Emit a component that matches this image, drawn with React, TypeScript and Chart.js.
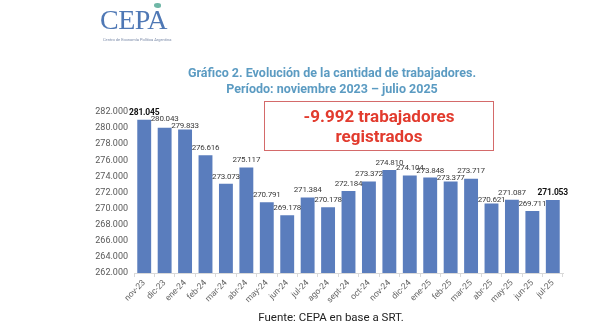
import React, { useEffect, useRef } from "react";
import { Chart, registerables } from "chart.js";

Chart.register(...registerables);

const categories = [
  "nov-23", "dic-23", "ene-24", "feb-24", "mar-24", "abr-24", "may-24", "jun-24",
  "jul-24", "ago-24", "sept-24", "oct-24", "nov-24", "dic-24", "ene-25", "feb-25",
  "mar-25", "abr-25", "may-25", "jun-25", "jul-25",
];
const trabajadores = [
  281045, 280043, 279833, 276616, 273073, 275117, 270791, 269178,
  271384, 270178, 272184, 273372, 274810, 274104, 273848, 273377,
  273717, 270621, 271087, 269711, 271053,
];
const boldLabels = [0, 20];
const yMin = 262000;
const yMax = 282000;
const yStep = 2000;

const fmt = (v: number) => {
  const s = Math.round(v).toString();
  return s.replace(/\B(?=(\d{3})+(?!\d))/g, ".");
};

const BAR_COLOR = "#5a7dbd";
const FONT = "Roboto, 'Liberation Sans', Arial, sans-serif";

const labelPlugin = {
  id: "barLabels",
  afterDatasetsDraw(chart: any) {
    const ctx = chart.ctx;
    const meta = chart.getDatasetMeta(0);
    ctx.save();
    ctx.textAlign = "center";
    ctx.textBaseline = "alphabetic";
    if ("letterSpacing" in ctx) (ctx as any).letterSpacing = "-0.2px";
    const H = 7;
    const items = meta.data.map((bar: any, i: number) => {
      const bold = boldLabels.includes(i);
      const font = `${bold ? "bold 8.5px" : "8px"} ${FONT}`;
      ctx.font = font;
      const text = fmt(trabajadores[i]);
      const w = ctx.measureText(text).width;
      return { x: bar.x, barY: bar.y, base: bar.y - 5, w, text, font, bold };
    });
    for (let i = 1; i < items.length; i++) {
      const a = items[i - 1];
      const b = items[i];
      const hOverlap = a.x + a.w / 2 > b.x - b.w / 2;
      if (!hOverlap) continue;
      const hi = a.barY <= b.barY ? a : b;
      const lo = hi === a ? b : a;
      if (lo.base - H >= hi.base) continue;
      lo.base = Math.min(lo.barY - 1, hi.base + H);
      if (lo.base - H < hi.base) hi.base = lo.base - H;
    }
    items.forEach((it: any) => {
      ctx.font = it.font;
      ctx.fillStyle = it.bold ? "#111111" : "#3a3a3a";
      ctx.fillText(it.text, it.x, it.base);
    });
    ctx.restore();
  },
};

export default function App() {
  const ref = useRef<HTMLCanvasElement | null>(null);

  useEffect(() => {
    if (!ref.current) return;
    const chart = new Chart(ref.current, {
      type: "bar",
      data: {
        labels: categories,
        datasets: [
          {
            data: trabajadores,
            backgroundColor: BAR_COLOR,
            barPercentage: 0.68,
            categoryPercentage: 1,
          },
        ],
      },
      options: {
        animation: false,
        responsive: false,
        maintainAspectRatio: false,
        layout: { padding: { left: 0, right: 37, top: 112, bottom: 11 } },
        plugins: {
          legend: { display: false },
          tooltip: { enabled: false },
          title: { display: false },
        },
        scales: {
          x: {
            grid: {
              display: true,
              drawOnChartArea: false,
              drawTicks: true,
              tickLength: 4,
              color: "#d9d9d9",
              offset: true,
            },
            border: { display: true, color: "#d9d9d9" },
            ticks: {
              autoSkip: false,
              minRotation: 45,
              maxRotation: 45,
              padding: 1,
              color: "#666666",
              font: { size: 8.5, family: FONT },
            },
            afterFit: (s: any) => {
              s.height = 40;
            },
          },
          y: {
            min: yMin,
            max: yMax,
            grid: { display: false, drawTicks: false },
            border: { display: false },
            ticks: {
              stepSize: yStep,
              padding: 6,
              color: "#595959",
              font: { size: 9, family: FONT },
              callback: (v: any) => fmt(Number(v)),
            },
            afterFit: (s: any) => {
              s.width = 134;
            },
          },
        },
      },
      plugins: [labelPlugin],
    });
    return () => chart.destroy();
  }, []);

  return (
    <div
      style={{
        position: "absolute",
        left: 0,
        top: 0,
        width: 600,
        height: 324,
        background: "#ffffff",
        overflow: "hidden",
        fontFamily: FONT,
      }}
    >
      <canvas
        ref={ref}
        width={600}
        height={324}
        style={{ position: "absolute", left: 0, top: 0, width: 600, height: 324 }}
      />
      {/* Logo */}
      <div
        style={{
          position: "absolute",
          left: 100,
          top: 4,
          fontFamily: "'Liberation Serif', 'DejaVu Serif', serif",
          fontSize: 28,
          lineHeight: "32px",
          color: "#4f78b5",
          letterSpacing: -0.5,
        }}
      >
        CEPA
      </div>
      <div
        style={{
          position: "absolute",
          left: 154,
          top: 3,
          width: 7,
          height: 5,
          borderRadius: "50% 50% 40% 60%",
          background: "#6fb7a6",
        }}
      />
      <div
        style={{
          position: "absolute",
          left: 103,
          top: 37,
          fontSize: 4,
          lineHeight: "5px",
          color: "#7a8aa8",
          whiteSpace: "nowrap",
        }}
      >
        Centro de Economía Política Argentina
      </div>
      {/* Title */}
      <div
        style={{
          position: "absolute",
          left: 132,
          width: 400,
          top: 65,
          textAlign: "center",
          color: "#5b9bc2",
          fontWeight: "bold",
          fontSize: 12.5,
          lineHeight: "16px",
          whiteSpace: "nowrap",
        }}
      >
        <div>Gráfico 2. Evolución de la cantidad de trabajadores.</div>
        <div>Período: noviembre 2023 – julio 2025</div>
      </div>
      {/* Red box */}
      <div
        style={{
          position: "absolute",
          left: 264,
          top: 101,
          width: 228,
          height: 48,
          border: "1px solid #d46a6a",
          display: "flex",
          flexDirection: "column",
          alignItems: "center",
          justifyContent: "center",
          color: "#e23b2e",
          fontWeight: "bold",
          fontSize: 17,
          lineHeight: "20px",
          whiteSpace: "nowrap",
        }}
      >
        <div>-9.992 trabajadores</div>
        <div>registrados</div>
      </div>
      {/* Source */}
      <div
        style={{
          position: "absolute",
          left: 181,
          width: 300,
          top: 310,
          textAlign: "center",
          color: "#222222",
          fontSize: 11.5,
          lineHeight: "14px",
        }}
      >
        Fuente: CEPA en base a SRT.
      </div>
    </div>
  );
}
